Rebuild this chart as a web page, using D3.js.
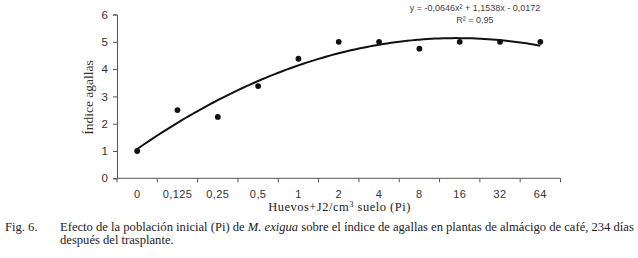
<!DOCTYPE html>
<html>
<head>
<meta charset="utf-8">
<script src="https://cdn.jsdelivr.net/npm/d3@7"></script>
<style>
  body { margin: 0; background: #fff; }
  svg { display: block; }
</style>
</head>
<body>
<div id="chart"></div>
<script>
// data
const categories = ["0", "0,125", "0,25", "0,5", "1", "2", "4", "8", "16", "32", "64"]
const galls = [1, 2.5, 2.25, 3.38, 4.38, 5, 5, 4.75, 5, 5, 5]
const yTicks = [0, 1, 2, 3, 4, 5, 6]
// polynomial trend printed on the chart: y = a x^2 + b x + c (x = 1..11)
const trendCoef = [-0.0646, 1.1538, -0.0172]
const trendText = ["y = -0,0646x² + 1,1538x - 0,0172", "R² = 0,95"]

const width = 638
const height = 258
const margin = {top: 14.5, left: 117, right: 77.5, bottom: 80}

const svg = d3.select("#chart").append("svg")
              .attr("width", width)
              .attr("height", height)

const xScale = d3.scaleBand()
                 .domain(categories)
                 .range([margin.left, width - margin.right])
                 .padding(0)
const yScale = d3.scaleLinear()
                 .domain([0, 6])
                 .range([height - margin.bottom + 0.3, margin.top])
const idxScale = d3.scaleLinear()
                   .domain([1, categories.length])
                   .range([xScale(categories[0]) + xScale.bandwidth() / 2,
                           xScale(categories[categories.length - 1]) + xScale.bandwidth() / 2])

const axisColor = "#555"
const sans = "Liberation Sans, Arial, sans-serif"
const serif = "Liberation Serif, Times New Roman, serif"
const y0 = yScale(0)

// x axis: labels under each category, tick marks at category boundaries
const xAxis = svg.append("g")
                 .attr("transform", `translate(0, ${y0})`)
                 .call(d3.axisBottom(xScale).tickSize(0).tickPadding(12))
xAxis.select("path").remove()
xAxis.selectAll("text")
     .attr("font-family", sans)
     .attr("font-size", "11px")
     .attr("letter-spacing", "0.4px")
     .attr("fill", "#333")
svg.append("line")
   .attr("x1", xScale.range()[0]).attr("x2", xScale.range()[1])
   .attr("y1", y0).attr("y2", y0)
   .attr("stroke", axisColor)
svg.selectAll(".xtick")
   .data(d3.range(categories.length + 1))
   .join("line")
   .attr("class", "xtick")
   .attr("x1", i => xScale.range()[0] + i * xScale.bandwidth())
   .attr("x2", i => xScale.range()[0] + i * xScale.bandwidth())
   .attr("y1", y0)
   .attr("y2", y0 + 4)
   .attr("stroke", axisColor)

// y axis
const yAxis = svg.append("g")
                 .attr("transform", `translate(${margin.left}, 0)`)
                 .call(d3.axisLeft(yScale).tickValues(yTicks).tickFormat(d3.format("d"))
                         .tickSize(4).tickPadding(5))
yAxis.select("path").attr("stroke", axisColor)
yAxis.selectAll("line").attr("stroke", axisColor)
yAxis.selectAll("text")
     .attr("font-family", sans)
     .attr("font-size", "11.5px")
     .attr("fill", "#333")

// trend curve
const trendPts = d3.range(1, categories.length + 0.001, 0.1)
                   .map(x => [x, trendCoef[0] * x * x + trendCoef[1] * x + trendCoef[2]])
svg.append("path")
   .datum(trendPts)
   .attr("fill", "none")
   .attr("stroke", "#111")
   .attr("stroke-width", 2)
   .attr("d", d3.line().x(d => idxScale(d[0])).y(d => yScale(d[1])).curve(d3.curveMonotoneX))

// data points
svg.selectAll(".dot")
   .data(galls)
   .join("circle")
   .attr("class", "dot")
   .attr("cx", (d, i) => xScale(categories[i]) + xScale.bandwidth() / 2)
   .attr("cy", d => yScale(d))
   .attr("r", 2.9)
   .attr("fill", "#111")

// equation
svg.selectAll(".eq")
   .data(trendText)
   .join("text")
   .attr("class", "eq")
   .attr("x", 475)
   .attr("y", (d, i) => 11 + i * 11.5)
   .attr("text-anchor", "middle")
   .attr("font-family", sans)
   .attr("font-size", "9px")
   .attr("fill", "#444")
   .text(d => d)

// axis titles
svg.append("text")
   .attr("transform", "translate(93, 97.5) rotate(-90)")
   .attr("text-anchor", "middle")
   .attr("font-family", serif)
   .attr("font-size", "13.5px")
   .attr("fill", "#333")
   .text("Índice agallas")
svg.append("text")
   .attr("x", 339.5)
   .attr("y", 211)
   .attr("text-anchor", "middle")
   .attr("font-family", serif)
   .attr("font-size", "12.5px")
   .attr("letter-spacing", "0.5px")
   .attr("fill", "#222")
   .html("Huevos+J2/cm<tspan font-size='8.5px' dy='-4.5'>3</tspan><tspan dy='4.5'> suelo (Pi)</tspan>")

// caption
const caption = svg.append("g")
                   .attr("font-family", serif)
                   .attr("font-size", "12.6px")
                   .attr("fill", "#222")
caption.append("text").attr("x", 5).attr("y", 231).text("Fig. 6.")
caption.append("text").attr("x", 60).attr("y", 231)
       .html("Efecto de la población inicial (Pi) de <tspan font-style='italic'>M. exigua</tspan> sobre el índice de agallas en plantas de almácigo de café, 234 días")
caption.append("text").attr("x", 60).attr("y", 244).text("después del trasplante.")
</script>
</body>
</html>
